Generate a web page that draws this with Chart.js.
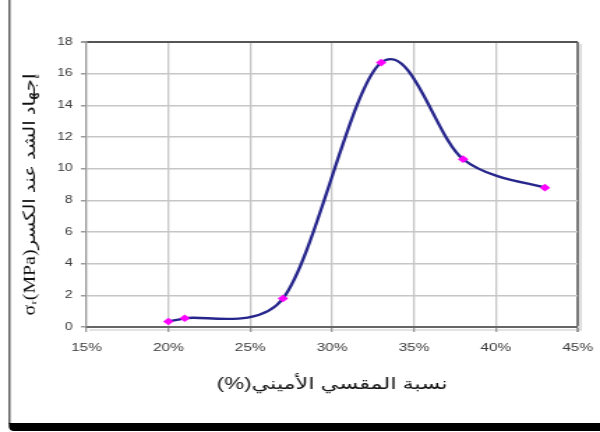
<!DOCTYPE html>
<html>
<head>
<meta charset="utf-8">
<script src="https://cdn.jsdelivr.net/npm/chart.js@4.4.1/dist/chart.umd.min.js"></script>
<style>
  html, body { margin: 0; padding: 0; background: #ffffff; overflow: hidden; }
  #wrap { width: 600px; height: 432px; position: relative; overflow: hidden; }
  /* the figure is laid out on a narrower canvas and widened to the page */
  #c { transform: scaleX(1.3953); transform-origin: 0 0; }
</style>
</head>
<body>
<div id="wrap"><canvas id="c" width="430" height="432"></canvas></div>
<script>
// Hardener content (%) and fracture stress (MPa)
const hardenerPct = [20, 21, 27, 33, 38, 43];
const fractureStress = [0.35, 0.55, 1.8, 16.7, 10.6, 8.8];

// Axis ticks
const xTickValues = [15, 20, 25, 30, 35, 40, 45];
const yTickValues = [0, 2, 4, 6, 8, 10, 12, 14, 16, 18];

const xTitle = '\u202Bنسبة المقسي الأميني(%)\u202C';
const yTitle = 'σᵣ(MPa)إجهاد الشد عند الكسر';

// Page frame: thin rule on the left, heavy bar along the bottom,
// plus a soft shadow behind the plot border.
const framePlugin = {
  id: 'frame',
  beforeDraw(chart) {
    const ctx = chart.ctx;
    ctx.save();
    ctx.fillStyle = '#ffffff';
    ctx.fillRect(0, 0, chart.width, chart.height);
    ctx.strokeStyle = '#3a3a3a';
    ctx.lineWidth = 1.2;
    ctx.beginPath();
    ctx.moveTo(6.8, 0);
    ctx.lineTo(6.8, 424);
    ctx.stroke();
    ctx.fillStyle = '#000000';
    ctx.beginPath();
    ctx.moveTo(6.3, 423);
    ctx.lineTo(430, 423);
    ctx.lineTo(430, 431);
    ctx.lineTo(10, 431);
    ctx.quadraticCurveTo(6.3, 431, 6.3, 426);
    ctx.closePath();
    ctx.fill();
    const a = chart.chartArea;
    ctx.strokeStyle = 'rgba(0,0,0,0.15)';
    ctx.lineWidth = 1.6;
    ctx.beginPath();
    ctx.moveTo(a.right + 2.2, a.top + 2);
    ctx.lineTo(a.right + 2.2, a.bottom + 3);
    ctx.lineTo(a.left + 2, a.bottom + 3);
    ctx.stroke();
    ctx.restore();
  }
};

// Smoothed line: cubic Bezier handles set to one sixth of the chord through
// the neighbouring points, each kept within half of its own segment.
const smoothPlugin = {
  id: 'smooth',
  beforeDatasetDraw(chart, args) {
    const meta = args.meta;
    const pts = meta.data;
    const n = pts.length;
    const limit = 0.5;
    for (let i = 0; i < n; i++) {
      const p = pts[i];
      const prev = pts[Math.max(i - 1, 0)];
      const next = pts[Math.min(i + 1, n - 1)];
      const tx = (next.x - prev.x) / 6;
      const ty = (next.y - prev.y) / 6;
      const tl = Math.hypot(tx, ty) || 1;
      const dPrev = Math.hypot(p.x - prev.x, p.y - prev.y);
      const dNext = Math.hypot(next.x - p.x, next.y - p.y);
      const sPrev = Math.min(1, (limit * dPrev) / tl);
      const sNext = Math.min(1, (limit * dNext) / tl);
      p.cp1x = p.x - tx * sPrev;
      p.cp1y = p.y - ty * sPrev;
      p.cp2x = p.x + tx * sNext;
      p.cp2y = p.y + ty * sNext;
    }
    meta.dataset._pointsUpdated = true;
  }
};

// Vertical axis title, drawn tall and narrow beside the tick labels
const yTitlePlugin = {
  id: 'yTitle',
  afterDraw(chart) {
    const ctx = chart.ctx;
    const a = chart.chartArea;
    ctx.save();
    ctx.font = '12px "Liberation Serif", "DejaVu Sans", serif';
    const w = ctx.measureText(yTitle).width;
    const k = 242 / w;
    ctx.translate(21.8, (a.top + a.bottom) / 2 + 10);
    ctx.rotate(-Math.PI / 2);
    ctx.scale(k, 1);
    ctx.fillStyle = '#111111';
    ctx.textAlign = 'center';
    ctx.textBaseline = 'middle';
    ctx.fillText(yTitle, 0, 0);
    ctx.restore();
  }
};

new Chart(document.getElementById('c'), {
  type: 'line',
  data: {
    datasets: [{
      data: hardenerPct.map((x, i) => ({ x: x, y: fractureStress[i] })),
      borderColor: '#25258c',
      borderWidth: 2.3,
      tension: 0.4,
      pointStyle: 'rectRot',
      pointRadius: 3.8,
      pointBackgroundColor: '#ff00ff',
      pointBorderColor: '#ff00ff',
      pointBorderWidth: 0,
      fill: false
    }]
  },
  options: {
    responsive: false,
    animation: false,
    events: [],
    layout: { autoPadding: false, padding: { left: 7, right: 16, top: 42, bottom: 0 } },
    plugins: {
      legend: { display: false },
      tooltip: { enabled: false }
    },
    scales: {
      x: {
        type: 'linear',
        min: 15,
        max: 45,
        afterBuildTicks(scale) { scale.ticks = xTickValues.map(v => ({ value: v })); },
        afterFit(scale) { scale.height = 105; scale.paddingLeft = 0; scale.paddingRight = 0; },
        ticks: {
          callback: v => v + '%',
          color: '#3a3a3a',
          font: { family: '"Liberation Sans"', size: 11 },
          padding: 9,
          maxRotation: 0
        },
        grid: {
          color: c => (c.tick && c.tick.value === 45) ? '#7a7a7a' : '#c6c6c6',
          lineWidth: c => (c.tick && c.tick.value === 45) ? 2 : 1.3,
          tickLength: 5,
          tickColor: '#9a9a9a'
        },
        border: { display: true, color: '#666666', width: 2 },
        title: {
          display: true,
          text: xTitle,
          color: '#111111',
          font: { family: '"Liberation Sans", "DejaVu Sans"', size: 16 },
          padding: { top: 0, bottom: 38 }
        }
      },
      y: {
        type: 'linear',
        min: 0,
        max: 18,
        afterBuildTicks(scale) { scale.ticks = yTickValues.map(v => ({ value: v })); },
        afterFit(scale) { scale.width = 55; scale.paddingTop = 0; scale.paddingBottom = 0; },
        ticks: {
          color: '#3a3a3a',
          font: { family: '"Liberation Sans"', size: 10 },
          padding: 6
        },
        grid: {
          color: c => (c.tick && c.tick.value === 18) ? '#555555' : '#c6c6c6',
          lineWidth: c => (c.tick && c.tick.value === 18) ? 2 : 1.5,
          tickLength: 4,
          tickColor: '#9a9a9a'
        },
        border: { display: true, color: '#9a9a9a', width: 1.2 },
        title: { display: false }
      }
    }
  },
  plugins: [framePlugin, smoothPlugin, yTitlePlugin]
});
</script>
</body>
</html>
